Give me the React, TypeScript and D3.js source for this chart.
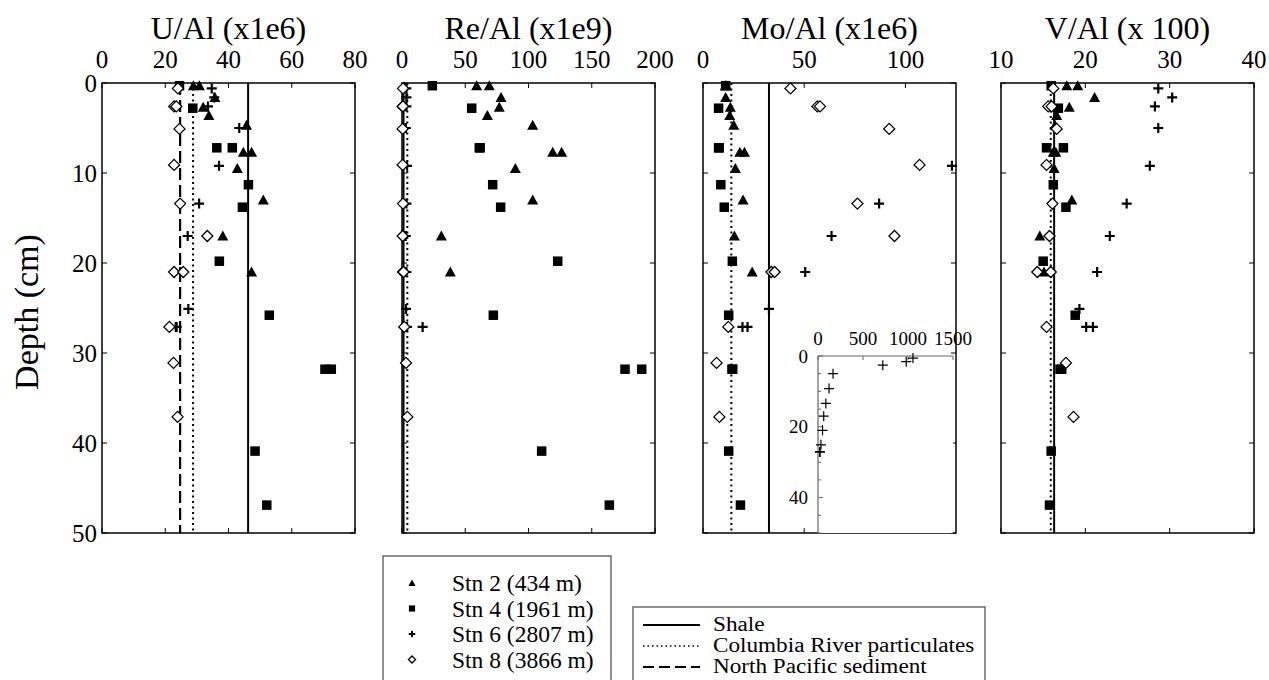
import * as d3 from "d3";
import React from "react";

// depth (cm) of each sample, per station
const depth2 = [0.3, 0.3, 1.6, 2.7, 3.6, 4.7, 7.7, 7.7, 9.5, 13, 17, 21];
const depth4 = [0.3, 2.8, 7.2, 7.2, 11.3, 13.8, 19.8, 25.8, 31.8, 31.8, 40.9, 46.9];
const depth6 = [0.6, 1.6, 2.6, 5.0, 9.2, 13.4, 17, 21, 25.1, 27.1, 27.1];
const depth8 = [0.6, 2.6, 2.6, 5.1, 9.1, 13.4, 17, 21, 21, 27.1, 31.1, 37.1];

// U/Al (x1e6)
const u2 = [28.9, 30.8, 35.7, 32.0, 33.8, 45.7, 44.7, 47.3, 42.8, 51.0, 38.2, 47.3];
const u4 = [24.5, 28.7, 36.3, 41.2, 46.3, 44.4, 37.1, 52.9, 70.5, 72.5, 48.4, 52.1];
const u6 = [34.7, 35.5, 33.5, 43.4, 37.0, 30.7, 27.1, 24.7, 27.3, 23.3, 23.6];
const u8 = [24.0, 22.8, 23.5, 24.5, 22.8, 24.7, 33.3, 22.8, 25.7, 21.3, 22.6, 23.9];

// Re/Al (x1e9)
const re2 = [59.0, 69.0, 78.3, 76.9, 67.5, 103.3, 119.1, 126.2, 89.6, 103.3, 31.1, 38.2];
const re4 = [24.0, 55.1, 61.1, 61.8, 71.7, 78.0, 123.1, 72.2, 176.3, 189.5, 110.4, 163.9];
const re6 = [3.5, 3.5, 3.5, 3.0, 4.0, 3.5, 3.0, 3.5, 3.2, 16.3, 4.0];
const re8 = [0.8, 0.5, 0.7, 0.5, 0.5, 0.8, 0.5, 0.8, 1.2, 1.8, 3.2, 4.2];

// Mo/Al (x1e6)
const mo2 = [11.0, 11.5, 11.2, 13.5, 13.2, 15.2, 18.2, 20.5, 16.0, 19.8, 15.5, 24.3];
const mo4 = [11.2, 7.7, 7.7, 8.0, 8.8, 10.5, 14.5, 12.7, 14.7, 14.3, 12.7, 18.5];
const mo6 = [1055, 980, 720, 167, 123, 87, 63.5, 50.5, 32.6, 19.5, 22];
const mo8 = [43.2, 56.5, 57.8, 92, 107, 76.3, 94.6, 33.8, 35.4, 12.5, 6.7, 8.1];

// V/Al (x 100)
const v2 = [17.8, 19.1, 21.1, 18.1, 16.6, 16.4, 16.2, 16.5, 16.3, 18.4, 14.6, 15.1];
const v4 = [15.95, 16.8, 15.4, 17.4, 16.2, 17.7, 15.0, 18.8, 17.0, 17.2, 15.95, 15.75];
const v6 = [28.65, 30.3, 28.25, 28.65, 27.65, 24.9, 22.9, 21.4, 19.3, 20.1, 20.9];
const v8 = [16.2, 15.6, 16.0, 16.6, 15.4, 16.1, 15.75, 14.3, 15.9, 15.4, 17.7, 18.6];

// reference compositions
const shale = [46.2, 1.2, 32.6, 16.3];
const columbia = [28.8, 4.2, 14.0, 15.9];
const pacific = [24.7, null, null, null];

const titles = ["U/Al (x1e6)", "Re/Al (x1e9)", "Mo/Al (x1e6)", "V/Al (x 100)"];
const domains = [[0, 80], [0, 200], [0, 125], [10, 40]];
const xTicks = [[0, 20, 40, 60, 80], [0, 50, 100, 150, 200], [0, 50, 100], [10, 20, 30, 40]];
const depthTicks = [0, 10, 20, 30, 40, 50];
const insetTicks = [0, 500, 1000, 1500];
const insetDepthTicks = [0, 20, 40];

const stations = ["Stn 2 (434 m)", "Stn 4 (1961 m)", "Stn 6 (2807 m)", "Stn 8 (3866 m)"];
const refNames = ["Shale", "Columbia River particulates", "North Pacific sediment"];

const font = "Liberation Serif, DejaVu Serif, serif";
const panelLeft = [102, 402, 703, 1001];
const panelW = 253;
const top = 83;
const bottom = 533;

const y = d3.scaleLinear().domain([0, 50]).range([top, bottom]);

function marker(kind: number, cx: number, cy: number, s = 1, key?: any) {
  if (kind === 0) {
    const h = 10 * s;
    return <path key={key} d={`M${cx},${cy - h * 0.55}L${cx + h * 0.55},${cy + h * 0.45}L${cx - h * 0.55},${cy + h * 0.45}Z`} fill="#000" />;
  }
  if (kind === 1) {
    const h = 9.5 * s;
    return <rect key={key} x={cx - h / 2} y={cy - h / 2} width={h} height={h} fill="#000" />;
  }
  if (kind === 2) {
    const h = 5 * s;
    return <path key={key} d={`M${cx - h},${cy}H${cx + h}M${cx},${cy - h}V${cy + h}`} stroke="#000" strokeWidth={2.2 * Math.min(1, s + 0.2)} />;
  }
  const h = 5.5 * s;
  return <path key={key} d={`M${cx},${cy - h}L${cx + h},${cy}L${cx},${cy + h}L${cx - h},${cy}Z`} fill="#fff" stroke="#000" strokeWidth={1.3} />;
}

const dash = [null, "2,3.5", "12,5"];
const lineW = [2, 2, 2.2];

export default function App() {
  const values = [
    [u2, u4, u6, u8],
    [re2, re4, re6, re8],
    [mo2, mo4, mo6, mo8],
    [v2, v4, v6, v8],
  ];
  const depths = [depth2, depth4, depth6, depth8];
  const refs = [shale, columbia, pacific];

  const insetX = d3.scaleLinear().domain([0, 1500]).range([818, 953]);
  const insetY = d3.scaleLinear().domain([0, 50]).range([356, 533]);

  return (
    <svg width={1269} height={680} style={{ position: "absolute", left: 0, top: 0, background: "#fff", fontFamily: font }}>
      <rect width={1269} height={680} fill="#fff" />
      {panelLeft.map((left, p) => {
        const x = d3.scaleLinear().domain(domains[p]).range([left, left + panelW]);
        return (
          <g key={p}>
            <text x={left + panelW / 2} y={39} textAnchor="middle" fontSize={32}>{titles[p]}</text>
            {xTicks[p].map((t) => (
              <g key={t}>
                <text x={x(t)} y={68} textAnchor="middle" fontSize={25}>{t}</text>
                <line x1={x(t)} x2={x(t)} y1={top} y2={top + 5} stroke="#000" strokeWidth={1} />
                <line x1={x(t)} x2={x(t)} y1={bottom} y2={bottom - 5} stroke="#000" strokeWidth={1} />
              </g>
            ))}
            {depthTicks.map((t) => (
              <g key={t}>
                <line x1={left} x2={left + 5} y1={y(t)} y2={y(t)} stroke="#000" strokeWidth={1} />
                <line x1={left + panelW} x2={left + panelW - 5} y1={y(t)} y2={y(t)} stroke="#000" strokeWidth={1} />
              </g>
            ))}
            <rect x={left} y={top} width={panelW} height={bottom - top} fill="none" stroke="#000" strokeWidth={1.5} />
            {refs.map((r, i) => r[p] == null ? null : (
              <line key={i} x1={x(r[p] as number)} x2={x(r[p] as number)} y1={top} y2={bottom}
                stroke="#000" strokeWidth={lineW[i]} strokeDasharray={dash[i] || undefined} />
            ))}
            {values[p].map((vals, s) =>
              vals.map((v, i) => (p === 2 && v > 125) ? null : marker(s, x(v), y(depths[s][i]), 1, `${s}-${i}`))
            )}
          </g>
        );
      })}

      {depthTicks.map((t) => (
        <text key={t} x={97} y={y(t)} textAnchor="end" dominantBaseline="central" fontSize={25}>{t}</text>
      ))}
      <text transform={`translate(38,${(top + bottom) / 2 + 4}) rotate(-90)`} textAnchor="middle" fontSize={34}>Depth (cm)</text>

      {/* inset: full range of Mo/Al at Stn 6 */}
      <g>
        <rect x={818} y={356} width={135} height={177} fill="#fff" />
        <line x1={818} x2={953} y1={356} y2={356} stroke="#666" strokeWidth={1.2} />
        <line x1={818} x2={818} y1={356} y2={533} stroke="#666" strokeWidth={1.2} />
        {insetTicks.map((t) => (
          <g key={t}>
            <text x={insetX(t)} y={345} textAnchor="middle" fontSize={19}>{t}</text>
            <line x1={insetX(t)} x2={insetX(t)} y1={356} y2={360} stroke="#666" strokeWidth={1} />
          </g>
        ))}
        {insetDepthTicks.map((t) => (
          <text key={t} x={808} y={insetY(t)} textAnchor="end" dominantBaseline="central" fontSize={19}>{t}</text>
        ))}
        {d3.range(0, 51, 5).map((t) => (
          <line key={t} x1={818} x2={t % 20 === 0 ? 823 : 821} y1={insetY(t)} y2={insetY(t)} stroke="#666" strokeWidth={1} />
        ))}
        {mo6.map((v, i) => (
          <path key={i} d={`M${insetX(v) - 5},${insetY(depth6[i])}h10M${insetX(v)},${insetY(depth6[i]) - 5}v10`} stroke="#000" strokeWidth={1.2} />
        ))}
      </g>

      {/* station legend */}
      <g>
        <rect x={383} y={556} width={228} height={140} fill="#fff" stroke="#555" strokeWidth={1.3} />
        {stations.map((s, i) => (
          <g key={s}>
            {marker(i, 412, 583 + i * 25.5, 0.65)}
            <text x={452} y={583 + i * 25.5} dominantBaseline="central" fontSize={23.5}>{s}</text>
          </g>
        ))}
      </g>

      {/* reference legend */}
      <g>
        <rect x={633} y={607} width={352} height={90} fill="#fff" stroke="#555" strokeWidth={1.3} />
        {refNames.map((s, i) => (
          <g key={s}>
            <line x1={643} x2={700} y1={625 + i * 21} y2={625 + i * 21} stroke="#000"
              strokeWidth={i === 1 ? 1.3 : 2} strokeDasharray={i === 1 ? "1.5,3" : i === 2 ? "11,5" : undefined} />
            <text transform={`translate(713,${625 + i * 21}) scale(1.16,1)`} dominantBaseline="central" fontSize={20}>{s}</text>
          </g>
        ))}
      </g>
    </svg>
  );
}
